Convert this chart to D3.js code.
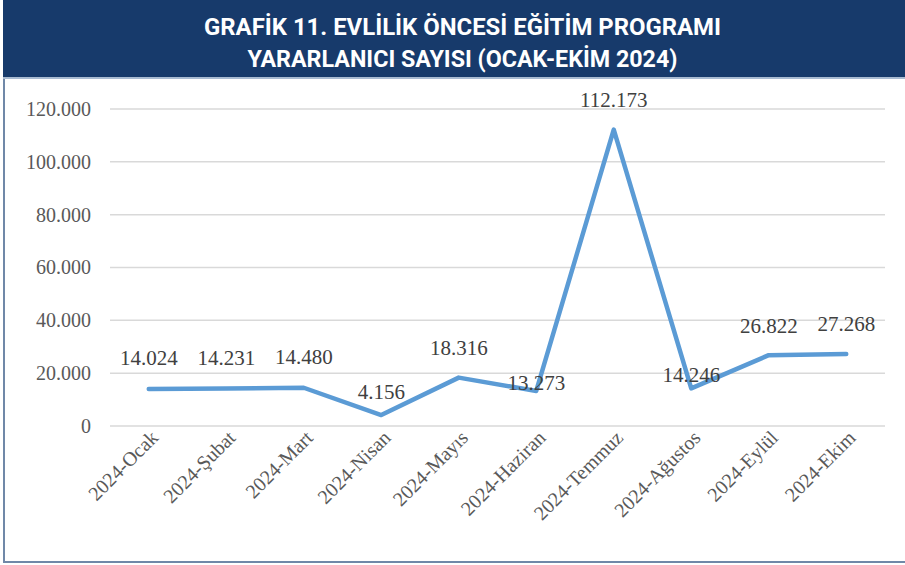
<!DOCTYPE html>
<html>
<head>
<meta charset="utf-8">
<script src="https://cdn.jsdelivr.net/npm/d3@7"></script>
<style>
  body { margin: 0; background: #fff; }
  svg { display: block; }
</style>
</head>
<body>
<div id="chart"></div>
<script>
var months = ["2024-Ocak", "2024-Şubat", "2024-Mart", "2024-Nisan", "2024-Mayıs",
              "2024-Haziran", "2024-Temmuz", "2024-Ağustos", "2024-Eylül", "2024-Ekim"];
var counts = [14024, 14231, 14480, 4156, 18316, 13273, 112173, 14246, 26822, 27268];
var yTicks = [0, 20000, 40000, 60000, 80000, 100000, 120000];
var titleLines = ["GRAFİK 11. EVLİLİK ÖNCESİ EĞİTİM PROGRAMI",
                  "YARARLANICI SAYISI (OCAK-EKİM 2024)"];

// label nudges (px above the point), the original has a few hand-placed labels
var labelLift = [31, 31, 31, 23, 30, 8, 30, 14, 29, 30];
var titleWidths = [517, 430];

var width = 905, height = 565;
var margin = {top: 109, right: 20, bottom: 139, left: 110};

var svg = d3.select("#chart")
    .append("svg")
    .attr("width", width)
    .attr("height", height);

// frame + header band
svg.append("rect")
    .attr("x", 4).attr("y", 40)
    .attr("width", width + 10).attr("height", 522)
    .attr("fill", "#fff")
    .attr("stroke", "#7088a8")
    .attr("stroke-width", 2);

svg.append("rect")
    .attr("x", 3).attr("y", 0)
    .attr("width", width - 3).attr("height", 77)
    .attr("fill", "#173a6b");

svg.append("line")
    .attr("x1", 3).attr("x2", width)
    .attr("y1", 78).attr("y2", 78)
    .attr("stroke", "#a9bbd2")
    .attr("stroke-width", 2);

svg.selectAll(".title")
    .data(titleLines)
    .enter()
    .append("text")
    .attr("class", "title")
    .attr("x", width / 2 + 10)
    .attr("y", function(d, i) { return 35 + i * 32; })
    .attr("text-anchor", "middle")
    .attr("textLength", function(d, i) { return titleWidths[i]; })
    .attr("lengthAdjust", "spacingAndGlyphs")
    .attr("fill", "#fff")
    .style("font-family", "'Roboto', sans-serif")
    .style("font-weight", "bold")
    .style("font-size", "24px")
    .text(function(d) { return d; });

var g = svg.append("g")
    .attr("transform", `translate(${margin.left}, ${margin.top})`);

var innerW = 885 - margin.left;
var innerH = 426 - margin.top;

var x = d3.scalePoint()
    .domain(months)
    .range([0, innerW])
    .padding(0.5);

var y = d3.scaleLinear()
    .domain([0, 120000])
    .range([innerH, 0]);

var fmt = function(v) {
    return v === 0 ? "0" : d3.format(",")(v).replace(/,/g, ".");
};

// gridlines
g.selectAll(".grid")
    .data(yTicks)
    .enter()
    .append("line")
    .attr("x1", 0)
    .attr("x2", innerW)
    .attr("y1", function(d) { return y(d); })
    .attr("y2", function(d) { return y(d); })
    .attr("stroke", "#d9d9d9")
    .attr("stroke-width", 1.5);

var serif = "'Liberation Serif', 'DejaVu Serif', serif";

var yAxis = g.append("g")
    .call(d3.axisLeft(y).tickValues(yTicks).tickSize(0).tickPadding(19).tickFormat(fmt));
yAxis.select(".domain").remove();
yAxis.selectAll("text")
    .attr("fill", "#595959")
    .style("font-family", serif)
    .style("font-size", "20px");

var xAxis = g.append("g")
    .attr("transform", `translate(0, ${innerH})`)
    .call(d3.axisBottom(x).tickSize(0).tickPadding(0));
xAxis.select(".domain").remove();
xAxis.selectAll("text")
    .attr("fill", "#595959")
    .style("font-family", serif)
    .style("font-size", "20px")
    .attr("text-anchor", "end")
    .attr("dy", null)
    .attr("y", 0)
    .attr("transform", "translate(10, 13) rotate(-45)");

var line = d3.line()
    .x(function(d, i) { return x(months[i]); })
    .y(function(d) { return y(d); });

g.append("path")
    .datum(counts)
    .attr("fill", "none")
    .attr("stroke", "#5b9bd5")
    .attr("stroke-width", 4.5)
    .attr("stroke-linejoin", "round")
    .attr("stroke-linecap", "round")
    .attr("d", line);

g.selectAll(".lbl")
    .data(counts)
    .enter()
    .append("text")
    .attr("class", "lbl")
    .attr("x", function(d, i) { return x(months[i]); })
    .attr("y", function(d, i) { return y(d) - labelLift[i]; })
    .attr("dy", "0.35em")
    .attr("text-anchor", "middle")
    .attr("fill", "#404040")
    .style("font-family", serif)
    .style("font-size", "21px")
    .text(function(d) { return fmt(d); });
</script>
</body>
</html>
